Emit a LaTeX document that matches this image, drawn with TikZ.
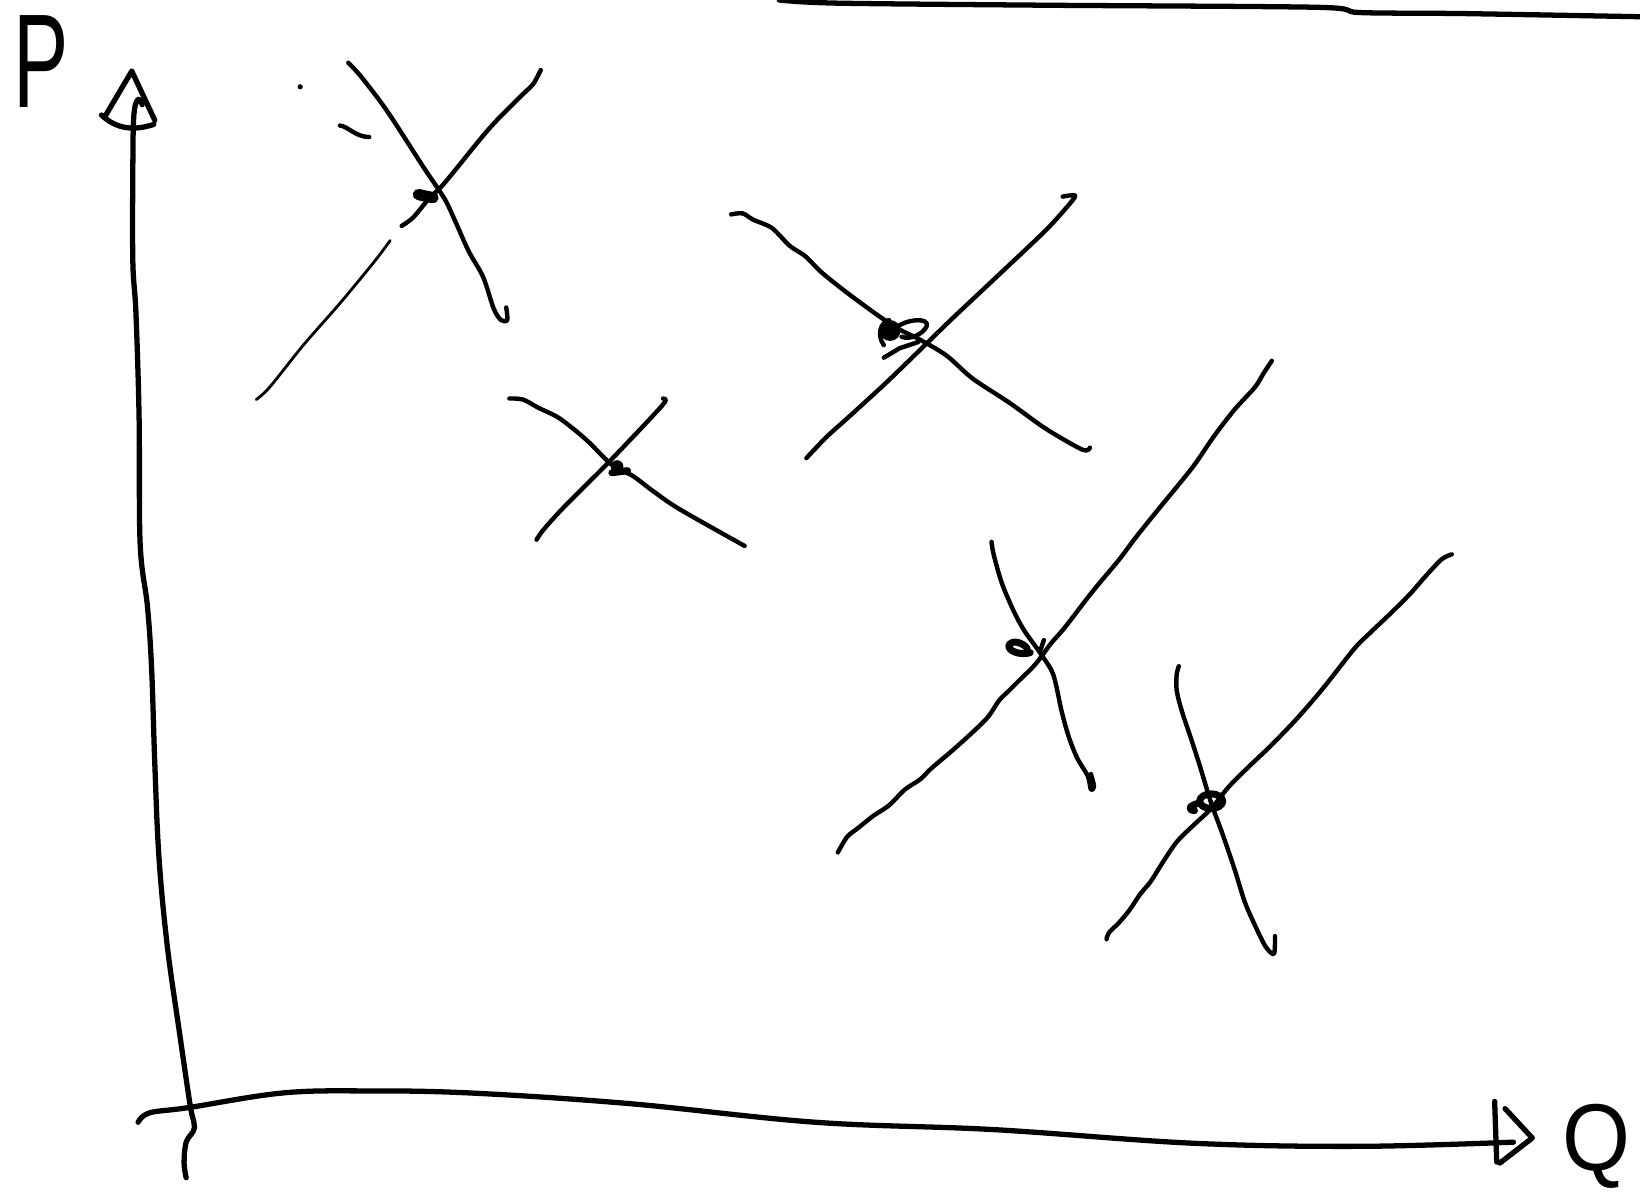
\documentclass[tikz,border=0pt]{standalone}
\usepackage{fontspec}
\setmainfont{Liberation Sans}
\usetikzlibrary{positioning}

\begin{document}
\begin{tikzpicture}[
  x=0.010459cm,
  y=-0.010459cm,
  line cap=round,
  line join=round,
  axis/.style={line width=1.5pt},
  curve/.style={line width=1.25pt},
  faint/.style={line width=0.8pt},
  blob/.style={line width=2pt},
  letter/.style={inner sep=0pt}
]
\useasboundingbox (0,0) rectangle (1568,1143);

% axes
\coordinate (ptip) at (126,68);
\coordinate (qtip) at (1465,1088);
\draw[axis] plot[smooth, tension=0.6] coordinates {(178,1126) (176,1112) (178,1092) (186,1078)
  (182,1058) (172,990) (160,905) (152,820) (148,730) (145,640) (141,580) (134,520)
  (133,400) (130,300) (127,250) (127,160) (128,110) (132,95) (136,100)};
\draw[axis] (ptip) -- (100,112) (ptip) -- (148,115)
  (97,110) .. controls (110,122) and (125,126) .. (147,119);
\draw[axis] plot[smooth, tension=0.6] coordinates {(132,1073) (143,1064) (180,1059)
  (270,1045) (350,1043) (450,1045) (600,1055) (780,1073) (950,1080) (1140,1093)
  (1300,1096) (1447,1092)};
\draw[axis] (1429,1053) -- (1431,1111) (1439,1060) -- (qtip) -- (1434,1112);
\node[letter] (p) at (39,59) {\fontsize{38}{38}\selectfont\scalebox{0.62}[1]{P}};
\node[letter, anchor=base] (q) at (1526,1119) {\fontsize{27}{27}\selectfont\scalebox{0.92}[1]{Q}};

% edge line at the top
\draw[axis] plot[smooth, tension=0.5] coordinates {(745,0) (800,3) (1000,5) (1260,7)
  (1300,12) (1400,13) (1568,16)};

% first cross
\draw[curve] plot[smooth, tension=0.5] coordinates {(333,60) (345,73) (370,106)
  (405,160) (425,190) (435,211) (448,240) (462,265) (472,295) (479,306) (485,306) (484,294)};
\draw[faint] plot[smooth, tension=0.5] coordinates {(245,382) (258,370) (290,330)
  (325,290) (358,250) (373,230)};
\draw[curve] plot[smooth, tension=0.5] coordinates {(384,216) (395,208) (410,190)
  (425,175) (460,132) (475,115) (490,100) (500,90) (510,80) (517,67)};
\draw[line width=3.2pt] (400,186) -- (414,189);
\fill (287,83) circle (2.5);
\draw[curve] (325,120) .. controls (333,121) and (340,131) .. (353,131);

% second cross
\draw[curve] plot[smooth, tension=0.5] coordinates {(487,381) (500,382) (515,390)
  (535,400) (560,420) (580,440) (590,448) (605,455) (625,470) (650,487) (712,522)};
\draw[curve] plot[smooth, tension=0.5] coordinates {(513,516) (520,506) (540,484)
  (580,444) (620,402) (636,384) (634,381)};
\fill (590,446) circle (6);
\draw[blob] (585,452) -- (600,450);

% third cross
\draw[curve] plot[smooth, tension=0.5] coordinates {(699,205) (710,204) (720,210)
  (738,218) (755,235) (770,245) (785,260) (810,280) (840,302) (860,315) (880,325)
  (905,340) (930,362) (965,385) (1000,410) (1035,430) (1042,428)};
\draw[curve] plot[smooth, tension=0.5] coordinates {(771,438) (790,418) (810,400)
  (845,368) (872,342) (910,305) (960,258) (1000,220) (1020,198) (1028,187) (1016,188)};
\fill (851,316) circle (10);
\draw[curve] (845,342) -- (860,333) -- (878,327);
\draw[curve] (852,318) .. controls (862,304) and (890,303) .. (886,312)
  .. controls (882,320) and (870,325) .. (862,322);
\draw[curve] (845,330) .. controls (838,320) and (842,308) .. (850,306);

% fourth cross
\draw[curve] plot[smooth, tension=0.5] coordinates {(948,518) (950,530) (958,558)
  (970,586) (980,604) (995,625) (1007,645) (1015,680) (1022,705) (1030,725)
  (1040,742) (1043,755) (1046,752) (1043,740)};
\draw[curve] plot[smooth, tension=0.5] coordinates {(801,815) (810,800) (820,792)
  (835,780) (850,770) (865,755) (880,745) (890,735) (910,718) (930,700) (945,685)
  (955,670) (965,660) (975,650) (990,635) (1005,615) (1018,600) (1045,565)
  (1070,535) (1085,515) (1105,490) (1140,447) (1160,418) (1180,392) (1200,370)
  (1208,357) (1216,345)};
\draw[blob] (985,624) .. controls (975,627) and (962,622) .. (965,616)
  .. controls (968,612) and (978,614) .. (982,620);
\draw[curve] (998,612) -- (995,621);

% fifth cross
\draw[curve] plot[smooth, tension=0.5] coordinates {(1127,637) (1125,645) (1125,660)
  (1130,680) (1140,710) (1148,735) (1158,768) (1168,795) (1180,830) (1190,862)
  (1200,885) (1210,905) (1218,912) (1219,895)};
\draw[curve] plot[smooth, tension=0.5] coordinates {(1058,898) (1060,892) (1070,882)
  (1080,870) (1090,855) (1100,843) (1112,824) (1125,805) (1140,790) (1158,773)
  (1175,752) (1195,732) (1215,713) (1240,687) (1265,658) (1295,620) (1310,605)
  (1330,586) (1348,568) (1362,552) (1378,535) (1388,530)};
\draw[blob] (1158,766) ellipse (11 and 7);
\draw[blob] (1146,768) .. controls (1138,770) and (1134,774) .. (1142,775);
\end{tikzpicture}
\end{document}
